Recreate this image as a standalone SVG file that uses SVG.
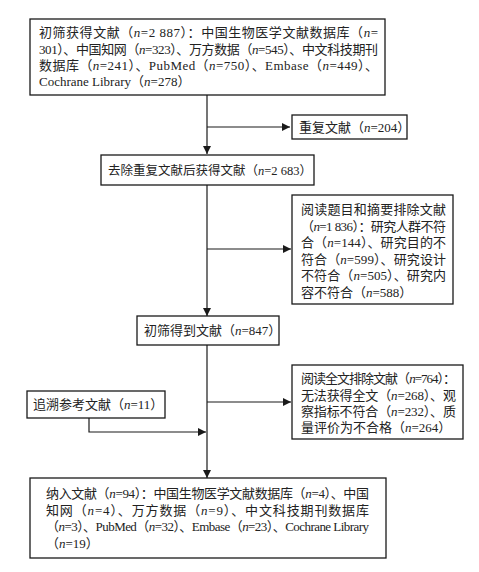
<svg xmlns="http://www.w3.org/2000/svg" width="479" height="572" viewBox="0 0 479 572">
<style>
.box{fill:#fff;stroke:#1a1a1a;stroke-width:1.3}
.t{font-family:"Liberation Serif","Noto Sans CJK SC",serif;font-size:13px;fill:#222}
.i{font-style:italic}
.ln{fill:none;stroke:#1a1a1a;stroke-width:1.2}
</style>
<defs>
<marker id="ah" viewBox="0 0 10 10" refX="10" refY="5" markerWidth="8" markerHeight="8" markerUnits="userSpaceOnUse" orient="auto">
<path d="M0,0 L10,5 L0,10 Z" fill="#1a1a1a"/>
</marker>
</defs>
<rect width="479" height="572" fill="#fff"/>
<g id="connectors">
<line class="ln" x1="207" y1="95" x2="207" y2="154" marker-end="url(#ah)"/>
<line class="ln" x1="207" y1="127" x2="290" y2="127" marker-end="url(#ah)"/>
<line class="ln" x1="207" y1="185" x2="207" y2="316" marker-end="url(#ah)"/>
<line class="ln" x1="207" y1="249" x2="291" y2="249" marker-end="url(#ah)"/>
<line class="ln" x1="207" y1="345" x2="207" y2="478" marker-end="url(#ah)"/>
<line class="ln" x1="207" y1="402" x2="291" y2="402" marker-end="url(#ah)"/>
<polyline class="ln" points="89,418 89,432 206,432" marker-end="url(#ah)"/>
</g>
<g id="n1">
<rect class="box" x="30" y="19" width="355" height="76"/>
<text class="t" x="39" y="37" textLength="339" lengthAdjust="spacing">初筛获得文献（<tspan class="i">n</tspan>=2 887）：中国生物医学文献数据库（<tspan class="i">n</tspan>=</text>
<text class="t" x="39" y="53.5" textLength="339" lengthAdjust="spacing">301）、中国知网（<tspan class="i">n</tspan>=323）、万方数据（<tspan class="i">n</tspan>=545）、中文科技期刊</text>
<text class="t" x="39" y="70" textLength="339" lengthAdjust="spacing">数据库（<tspan class="i">n</tspan>=241）、PubMed（<tspan class="i">n</tspan>=750）、Embase（<tspan class="i">n</tspan>=449）、</text>
<text class="t" x="39" y="86">Cochrane Library（<tspan class="i">n</tspan>=278）</text>
</g>
<g id="n2">
<rect class="box" x="292" y="115" width="115" height="24"/>
<text class="t" x="299" y="131.5">重复文献（<tspan class="i">n</tspan>=204）</text>
</g>
<g id="n3">
<rect class="box" x="101" y="155" width="213" height="30"/>
<text class="t" x="108" y="175" style="font-size:12.5px">去除重复文献后获得文献（<tspan class="i">n</tspan>=2 683）</text>
</g>
<g id="n4">
<rect class="box" x="292" y="195" width="161" height="109"/>
<text class="t" x="301" y="214" textLength="145" lengthAdjust="spacing">阅读题目和摘要排除文献</text>
<text class="t" x="301" y="230.5" textLength="145" lengthAdjust="spacing">（<tspan class="i">n</tspan>=1 836）：研究人群不符</text>
<text class="t" x="301" y="247" textLength="145" lengthAdjust="spacing">合（<tspan class="i">n</tspan>=144）、研究目的不</text>
<text class="t" x="301" y="263.5" textLength="145" lengthAdjust="spacing">符合（<tspan class="i">n</tspan>=599）、研究设计</text>
<text class="t" x="301" y="280" textLength="145" lengthAdjust="spacing">不符合（<tspan class="i">n</tspan>=505）、研究内</text>
<text class="t" x="301" y="296.5">容不符合（<tspan class="i">n</tspan>=588）</text>
</g>
<g id="n5">
<rect class="box" x="137" y="316" width="142" height="29"/>
<text class="t" x="144" y="335">初筛得到文献（<tspan class="i">n</tspan>=847）</text>
</g>
<g id="n6">
<rect class="box" x="292" y="365" width="171" height="74"/>
<text class="t" x="301" y="382.5" textLength="155" lengthAdjust="spacing">阅读全文排除文献（<tspan class="i">n</tspan>=764）：</text>
<text class="t" x="301" y="399.5" textLength="155" lengthAdjust="spacing">无法获得全文（<tspan class="i">n</tspan>=268）、观</text>
<text class="t" x="301" y="416" textLength="155" lengthAdjust="spacing">察指标不符合（<tspan class="i">n</tspan>=232）、质</text>
<text class="t" x="301" y="432">量评价为不合格（<tspan class="i">n</tspan>=264）</text>
</g>
<g id="n7">
<rect class="box" x="27" y="391" width="138" height="27"/>
<text class="t" x="33" y="409">追溯参考文献（<tspan class="i">n</tspan>=11）</text>
</g>
<g id="n8">
<rect class="box" x="30" y="478" width="356" height="80"/>
<text class="t" x="46" y="498" textLength="323" lengthAdjust="spacing">纳入文献（<tspan class="i">n</tspan>=94）：中国生物医学文献数据库（<tspan class="i">n</tspan>=4）、中国</text>
<text class="t" x="46" y="514.5" textLength="323" lengthAdjust="spacing">知网（<tspan class="i">n</tspan>=4）、万方数据（<tspan class="i">n</tspan>=9）、中文科技期刊数据库</text>
<text class="t" x="46" y="531" textLength="323" lengthAdjust="spacing">（<tspan class="i">n</tspan>=3）、PubMed（<tspan class="i">n</tspan>=32）、Embase（<tspan class="i">n</tspan>=23）、Cochrane Library</text>
<text class="t" x="46" y="547.5">（<tspan class="i">n</tspan>=19）</text>
</g>
</svg>
